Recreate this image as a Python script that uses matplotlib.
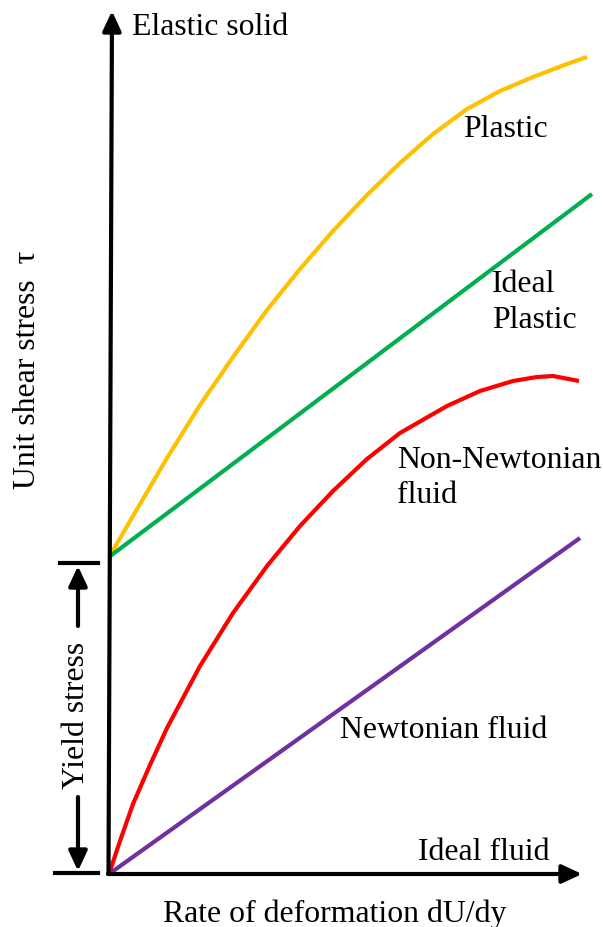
import matplotlib
matplotlib.use('Agg')
import matplotlib.pyplot as plt

plt.rcParams['font.family'] = ['Liberation Serif', 'DejaVu Serif']

# schematic rheology curves: rate of deformation vs unit shear stress (arbitrary units)
plastic_x = [0.0, 0.24, 0.58, 0.91, 1.24, 1.58, 1.91, 2.24, 2.58, 2.91, 3.24, 3.58, 3.91, 4.24, 4.58, 4.78]
plastic_y = [3.17, 3.58, 4.16, 4.69, 5.17, 5.64, 6.05, 6.43, 6.79, 7.11, 7.40, 7.65, 7.83, 7.97, 8.10, 8.17]

ideal_plastic_x = [0.0, 4.83]
ideal_plastic_y = [3.17, 6.80]

non_newtonian_x = [0.0, 0.11, 0.24, 0.41, 0.58, 0.91, 1.24, 1.58, 1.91, 2.24, 2.58, 2.91,
                   3.38, 3.71, 4.04, 4.28, 4.44, 4.70]
non_newtonian_y = [0.0, 0.33, 0.70, 1.09, 1.46, 2.08, 2.61, 3.08, 3.48, 3.83, 4.15, 4.41,
                   4.68, 4.83, 4.93, 4.97, 4.98, 4.93]

newtonian_x = [0.0, 4.71]
newtonian_y = [0.0, 3.36]

yield_stress = 3.11

fs = 22.9
lw = 3.0

fig = plt.figure(figsize=(6.03, 9.28), dpi=100)
ax = fig.add_axes([0, 0, 1, 1])
ax.set_xlim(-1.09, 4.94)
ax.set_ylim(-0.53, 8.75)
ax.axis('off')

ax.plot(plastic_x, plastic_y, color='#FFC000', lw=lw, solid_capstyle='butt', solid_joinstyle='round', zorder=2)
ax.plot(ideal_plastic_x, ideal_plastic_y, color='#00B050', lw=lw, solid_capstyle='butt', zorder=2)
ax.plot(non_newtonian_x, non_newtonian_y, color='#FF0000', lw=lw, solid_capstyle='butt', solid_joinstyle='round', zorder=2)
ax.plot(newtonian_x, newtonian_y, color='#7030A0', lw=lw, solid_capstyle='butt', zorder=2)


def arrow(x0, y0, x1, y1):
    ax.annotate('', xy=(x1, y1), xytext=(x0, y0),
                arrowprops=dict(arrowstyle='-|>,head_length=0.6,head_width=0.28',
                                mutation_scale=20, lw=lw, color='black',
                                shrinkA=0, shrinkB=0), zorder=3)


# axes with arrows
arrow(-0.005, 0.0, 0.03, 8.63)
arrow(-0.01, 0.0, 4.73, 0.0)

# yield stress bracket
ax.plot([-0.49, -0.11], [yield_stress, yield_stress], color='black', lw=lw)
ax.plot([-0.54, -0.11], [0.01, 0.01], color='black', lw=lw)
arrow(-0.31, 2.48, -0.31, 3.08)
arrow(-0.31, 0.77, -0.31, 0.03)
ax.text(-0.25, 1.60, 'Yield stress', rotation=90, rotation_mode='anchor',
        ha='center', va='baseline', fontsize=fs)

# labels
ax.text(-0.74, 5.05, 'Unit shear stress  \u03c4', rotation=90, rotation_mode='anchor',
        ha='center', va='baseline', fontsize=fs)
ax.text(0.54, -0.47, 'Rate of deformation dU/dy', ha='left', va='baseline', fontsize=fs)
ax.text(0.23, 8.40, 'Elastic solid', ha='left', va='baseline', fontsize=fs)
ax.text(3.54, 7.38, 'Plastic', ha='left', va='baseline', fontsize=fs)
ax.text(3.83, 5.83, 'Ideal', ha='left', va='baseline', fontsize=fs)
ax.text(3.83, 5.47, 'Plastic', ha='left', va='baseline', fontsize=fs)
ax.text(2.88, 4.07, 'Non-Newtonian', ha='left', va='baseline', fontsize=fs)
ax.text(2.88, 3.72, 'fluid', ha='left', va='baseline', fontsize=fs)
ax.text(2.31, 1.37, 'Newtonian fluid', ha='left', va='baseline', fontsize=fs)
ax.text(3.09, 0.15, 'Ideal fluid', ha='left', va='baseline', fontsize=fs)

fig.savefig('out.png', dpi=100)
